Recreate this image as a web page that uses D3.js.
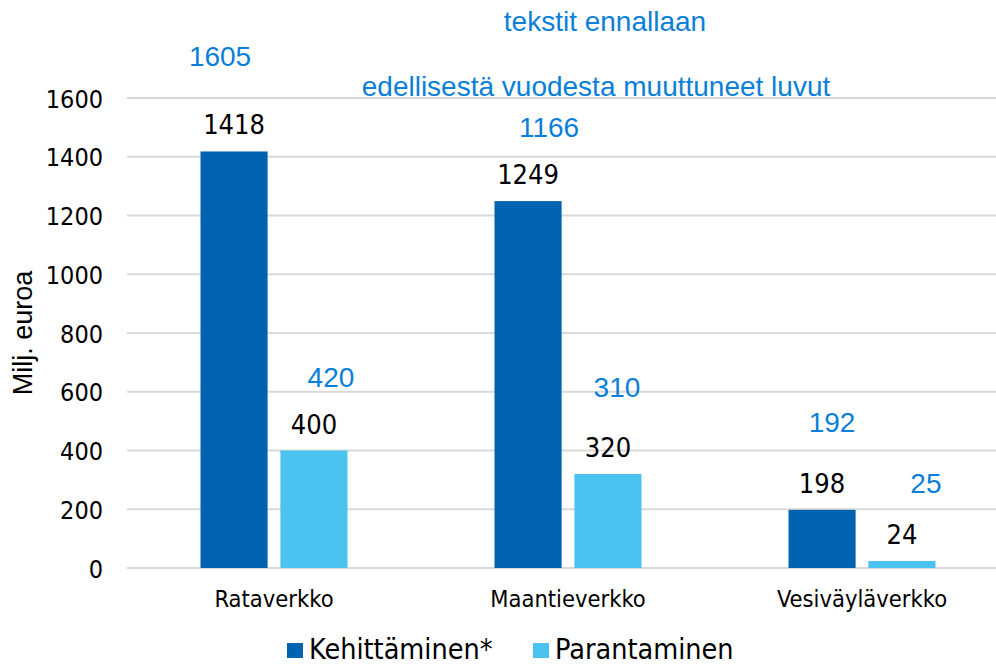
<!DOCTYPE html>
<html>
<head>
<meta charset="utf-8">
<script src="https://cdn.jsdelivr.net/npm/d3@7"></script>
<style>
  body { margin: 0; background: #fff; }
  svg { display: block; }
  .tick text, .cat, .val, .legend text {
    font-family: "DejaVu Sans Condensed", "DejaVu Sans", sans-serif;
    font-stretch: condensed;
  }
  .ytitle { font-family: "Liberation Sans", Arial, sans-serif; }
  .note { font-family: "Liberation Sans", Arial, sans-serif; fill: #0a7fd9; }
</style>
</head>
<body>
<svg width="996" height="667"></svg>
<script>
// data
const categories = ["Rataverkko", "Maantieverkko", "Vesiväyläverkko"];
const seriesNames = ["Kehittäminen*", "Parantaminen"];
const kehittaminen = [1418, 1249, 198];
const parantaminen = [400, 320, 24];
// edellisen vuoden luvut (sininen teksti)
const prevKehittaminen = [1605, 1166, 192];
const prevParantaminen = [420, 310, 25];
const yTicks = [0, 200, 400, 600, 800, 1000, 1200, 1400, 1600];
const noteTexts = ["tekstit ennallaan", "edellisestä vuodesta muuttuneet luvut"];

const colors = ["#0063af", "#4bc3f0"];

const svg = d3.select("svg");
const width = +svg.attr("width");
const height = +svg.attr("height");

const margin = { top: 98, left: 127, right: -13, bottom: 99 };
const innerW = width - margin.left - margin.right;
const innerH = height - margin.top - margin.bottom;

const data = categories.map((c, i) => ({
  cat: c,
  values: [kehittaminen[i], parantaminen[i]],
  prev: [prevKehittaminen[i], prevParantaminen[i]]
}));

const x0 = d3.scaleBand().domain(categories).range([0, innerW])
  .paddingInner(0.5).paddingOuter(0.25);
const x1 = d3.scaleBand().domain(seriesNames).range([0, x0.bandwidth()])
  .paddingInner(0.16);
const y = d3.scaleLinear().domain([0, 1600]).range([innerH, 0]);

const g = svg.append("g").attr("transform", `translate(${margin.left},${margin.top})`);

// gridlines
g.append("g")
  .selectAll("line")
  .data(yTicks)
  .join("line")
  .attr("x1", 0).attr("x2", innerW + 20)
  .attr("y1", d => y(d)).attr("y2", d => y(d))
  .attr("stroke", "#d9d9d9").attr("stroke-width", 2);

// y axis labels
const yAxis = g.append("g")
  .call(d3.axisLeft(y).tickValues(yTicks).tickFormat(d3.format("d")).tickSize(0).tickPadding(24));
yAxis.select(".domain").remove();
yAxis.selectAll("text").attr("font-size", 25).attr("fill", "#000").attr("dy", "0.36em");

// y title
svg.append("text")
  .attr("class", "ytitle")
  .attr("transform", `translate(32,${margin.top + innerH / 2}) rotate(-90)`)
  .attr("text-anchor", "middle")
  .attr("font-size", 27)
  .text("Milj. euroa");

// bars
const groups = g.selectAll(".grp")
  .data(data)
  .join("g")
  .attr("class", "grp")
  .attr("transform", d => `translate(${x0(d.cat)},0)`);

groups.selectAll("rect")
  .data(d => d.values.map((v, i) => ({ s: seriesNames[i], v, i })))
  .join("rect")
  .attr("x", d => x1(d.s))
  .attr("width", x1.bandwidth())
  .attr("y", d => y(d.v))
  .attr("height", d => innerH - y(d.v))
  .attr("fill", d => colors[d.i]);

// value labels
groups.selectAll(".val")
  .data(d => d.values.map((v, i) => ({ s: seriesNames[i], v })))
  .join("text")
  .attr("class", "val")
  .attr("x", d => x1(d.s) + x1.bandwidth() / 2)
  .attr("y", d => y(d.v) - 17)
  .attr("text-anchor", "middle")
  .attr("font-size", 27)
  .text(d => d.v);

// blue notes: previous values, offsets from the value label
const prevOffsets = [
  [[-14, -68], [17, -47]],
  [[21, -47], [9, -60]],
  [[10, -61], [24, -51]]
];
groups.each(function (d, ci) {
  d3.select(this).selectAll(".note")
    .data(d.prev.map((p, i) => ({ s: seriesNames[i], p, v: d.values[i], off: prevOffsets[ci][i] })))
    .join("text")
    .attr("class", "note")
    .attr("x", e => x1(e.s) + x1.bandwidth() / 2 + e.off[0])
    .attr("y", e => y(e.v) - 17 + e.off[1])
    .attr("text-anchor", "middle")
    .attr("font-size", 28)
    .text(e => e.p);
});

svg.selectAll(".noteTitle")
  .data(noteTexts)
  .join("text")
  .attr("class", "note noteTitle")
  .attr("x", (d, i) => [605, 596][i])
  .attr("y", (d, i) => [31, 96][i])
  .attr("text-anchor", "middle")
  .attr("font-size", 28)
  .text(d => d);

// category labels
g.selectAll(".cat")
  .data(categories)
  .join("text")
  .attr("class", "cat")
  .attr("x", d => x0(d) + x0.bandwidth() / 2)
  .attr("y", innerH + 39)
  .attr("text-anchor", "middle")
  .attr("font-size", 23.5)
  .text(d => d);

// legend
const legend = svg.append("g").attr("class", "legend");
const legX = [287, 533];
seriesNames.forEach((s, i) => {
  legend.append("rect")
    .attr("x", legX[i]).attr("y", 643).attr("width", 16).attr("height", 15)
    .attr("fill", colors[i]);
  legend.append("text")
    .attr("x", legX[i] + 22).attr("y", 659)
    .attr("font-size", 28.5)
    .text(s);
});
</script>
</body>
</html>
